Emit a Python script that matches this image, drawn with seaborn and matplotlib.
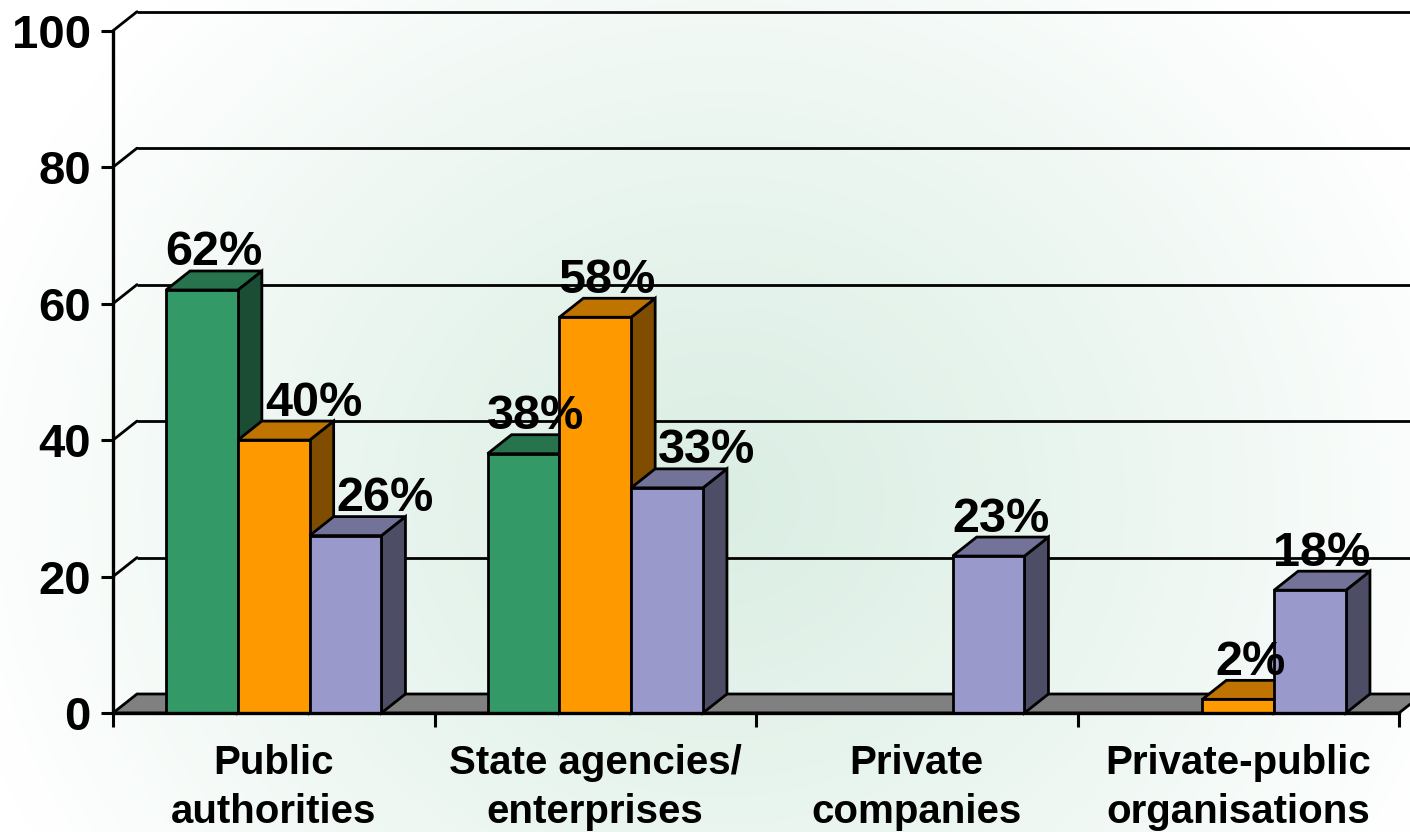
import numpy as np
import pandas as pd
import matplotlib
matplotlib.use("Agg")
import matplotlib.pyplot as plt
import seaborn as sns
from matplotlib.patches import Polygon
from matplotlib.colors import to_rgb

# ---- data -------------------------------------------------------------
categories = ["Public\nauthorities", "State agencies/\nenterprises",
              "Private\ncompanies", "Private-public\norganisations"]
series = ["green", "orange", "purple"]
green_vals = [62, 38, None, None]
orange_vals = [40, 58, None, 2]
purple_vals = [26, 33, 23, 18]
y_ticks = [0, 20, 40, 60, 80, 100]
colors = ["#339966", "#FF9900", "#9999CC"]

rows = []
for name, vals in zip(series, [green_vals, orange_vals, purple_vals]):
    for cat, v in zip(categories, vals):
        if v is not None:
            rows.append({"category": cat, "series": name, "value": v})
df = pd.DataFrame(rows)

# ---- style ------------------------------------------------------------
sns.set_style("white")
plt.rcParams["font.family"] = ["Liberation Sans", "DejaVu Sans"]
plt.rcParams["font.weight"] = "bold"
for key in ["text.color", "axes.labelcolor", "xtick.color", "ytick.color"]:
    plt.rcParams[key] = "black"

LW = 2.0
W, H, DPI = 1410, 832, 100
fig = plt.figure(figsize=(W / DPI, H / DPI), dpi=DPI)

# soft radial background
bg = fig.add_axes([0, 0, 1, 1], zorder=-10)
yy, xx = np.mgrid[0:H, 0:W]
d = np.sqrt(((xx - 720) / 1.0) ** 2 + ((yy - 500) / 0.9) ** 2)
t = np.clip(d / 780.0, 0, 1) ** 1.2
c0 = np.array([0.86, 0.935, 0.895])
img = c0[None, None, :] * (1 - t[..., None]) + np.ones(3)[None, None, :] * t[..., None]
bg.imshow(img, aspect="auto", extent=[0, 1, 0, 1], origin="upper")
bg.axis("off")

# front plane of the chart
left_px, right_px, top_px, base_px = 113, 1399, 30.7, 713
ax = fig.add_axes([left_px / W, (H - base_px) / H,
                   (right_px - left_px) / W, (base_px - top_px) / H])
ax.set_facecolor("none")

sns.barplot(data=df, x="category", y="value", hue="series",
            order=categories, hue_order=series, palette=colors,
            width=0.67, gap=0, saturation=1, errorbar=None,
            edgecolor="black", linewidth=LW, legend=False, ax=ax)

ax.set_xlim(-0.5, len(categories) - 0.5)
ax.set_ylim(0, 100)

# depth offset of the 3-D box, in data units
DEPTH_PX = (24, 19)
p0 = ax.transData.transform((0, 0))
dxy = ax.transData.inverted().transform((p0[0] + DEPTH_PX[0], p0[1] + DEPTH_PX[1]))
DX, DY = dxy[0], dxy[1]

x_lo, x_hi = ax.get_xlim()

# floor
ax.add_patch(Polygon([(x_lo, 0), (x_hi, 0), (x_hi + DX, DY), (x_lo + DX, DY)],
                     closed=True, facecolor="#808080", edgecolor="black",
                     linewidth=LW, zorder=1.2, clip_on=False))

# back-wall gridlines and side-wall diagonals
for v in y_ticks[1:]:
    ax.plot([x_lo + DX, x_hi + DX], [v + DY, v + DY], color="black",
            lw=LW, zorder=1.0, clip_on=False, solid_capstyle="butt")
    ax.plot([x_lo, x_lo + DX], [v, v + DY], color="black",
            lw=LW, zorder=1.0, clip_on=False)


def shade(c, f):
    r, g, b = to_rgb(c)
    return (r * f, g * f, b * f)


bars = [p for p in ax.patches
        if hasattr(p, "get_height") and np.isfinite(p.get_height()) and p.get_height() > 0]
bars.sort(key=lambda p: p.get_x())

bar_info = []
for k, p in enumerate(bars):
    x, w, h = p.get_x(), p.get_width(), p.get_height()
    fc = p.get_facecolor()
    z = 2 + k * 0.01
    side = Polygon([(x + w, 0), (x + w + DX, DY), (x + w + DX, h + DY), (x + w, h)],
                   closed=True, facecolor=shade(fc, 0.5), edgecolor="black",
                   linewidth=LW, zorder=z, clip_on=False, joinstyle="miter")
    top = Polygon([(x, h), (x + DX, h + DY), (x + w + DX, h + DY), (x + w, h)],
                  closed=True, facecolor=shade(fc, 0.75), edgecolor="black",
                  linewidth=LW, zorder=z, clip_on=False, joinstyle="miter")
    ax.add_patch(side)
    ax.add_patch(top)
    p.set_zorder(z + 0.005)
    p.set_clip_on(False)
    bar_info.append((x, w, h))

# value labels on the top faces
LABEL_RISE = 4
labels = []
for k, (x, w, h) in enumerate(bar_info):
    txt = ax.annotate(f"{h:.0f}%", xy=(x + w / 2 + DX / 2, h + DY),
                      xytext=(0, LABEL_RISE), textcoords="offset points",
                      ha="center", va="baseline", fontsize=35,
                      fontweight="bold", zorder=5, annotation_clip=False)
    labels.append(txt)

# push a label right when the bar just left of it is taller
fig.canvas.draw()
renderer = fig.canvas.get_renderer()
for k in range(1, len(bar_info)):
    x, w, h = bar_info[k]
    px, pw, ph = bar_info[k - 1]
    if abs((px + pw) - x) < 1e-6 and ph > h:
        edge = ax.transData.transform((px + pw + DX, 0))[0] + 3
        bb = labels[k].get_window_extent(renderer)
        if bb.x0 < edge:
            shift = (edge - bb.x0) * 72 / DPI
            labels[k].set_position((shift, LABEL_RISE))

# axes, ticks and labels
for s in ["top", "right"]:
    ax.spines[s].set_visible(False)
for s in ["left", "bottom"]:
    ax.spines[s].set_linewidth(2.4)
    ax.spines[s].set_color("black")
    ax.spines[s].set_zorder(6)

ax.set_yticks(y_ticks)
ax.set_yticklabels([str(v) for v in y_ticks])
ax.tick_params(axis="y", direction="out", length=9, width=2.2, pad=7,
               labelsize=34, left=True)
ax.set_xticks(range(len(categories)))
ax.set_xticklabels(categories, fontsize=29, fontweight="bold", linespacing=1.38)
ax.tick_params(axis="x", which="major", length=0, pad=22)
ax.set_xticks(np.arange(-0.5, len(categories), 1.0), minor=True)
ax.tick_params(axis="x", which="minor", direction="out", length=10, width=2.2,
               bottom=True)
for lab in ax.get_yticklabels():
    lab.set_fontweight("bold")
ax.set_xlabel("")
ax.set_ylabel("")
ax.grid(False)

fig.savefig("out.png", dpi=DPI)
